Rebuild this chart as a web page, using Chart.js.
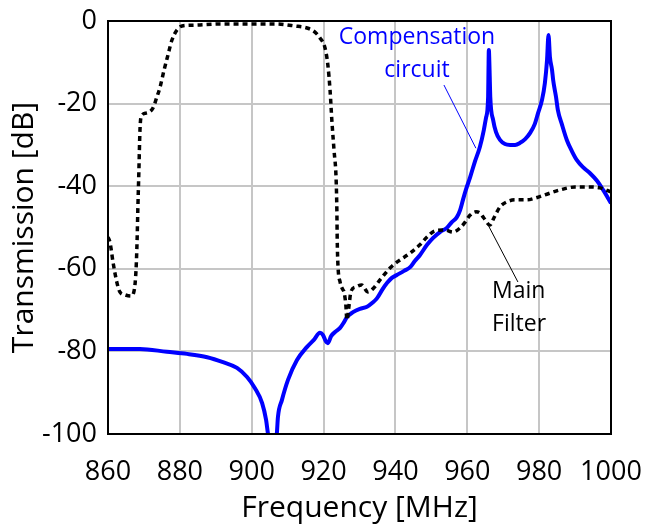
<!DOCTYPE html>
<html>
<head>
<meta charset="utf-8">
<script src="https://cdn.jsdelivr.net/npm/chart.js@4/dist/chart.umd.min.js"></script>
<style>
  html, body { margin: 0; padding: 0; background: #fff; }
  #wrap { width: 646px; height: 526px; }
</style>
</head>
<body>
<div id="wrap"><canvas id="chart"></canvas></div>
<script>
// main filter (black dotted)
var mainFreq = [860, 860.6, 861.4, 862.5, 863.3, 864.7, 866.4, 867.2, 867.8, 868.1, 868.3, 868.6, 868.9, 869.2,
  870.6, 872.5, 873.6, 874.5, 875.6, 876.7, 877.8, 879.2, 880.6, 884.2, 891.2, 899.5, 906.5, 912.0, 915.4,
  917.6, 919.0, 920.4, 921.2, 921.8, 922.3, 922.9, 923.5, 923.7, 923.8, 924.0, 924.6, 925.4, 925.7, 926.2,
  926.5, 927.1, 927.6, 929.0, 930.6, 932.3, 934.0, 935.7, 938.5, 940.4, 944.1, 946.8, 948.8, 951.0, 953.8,
  956.0, 958.0, 959.4, 960.8, 962.4, 963.5, 964.6, 966.3, 967.4, 969.1, 971.0, 973.3, 976.6, 978.8, 981.6,
  985.8, 990.0, 994.1, 996.9, 1000];
var mainDb = [-52.3, -53.8, -58.4, -63.4, -65.6, -66.3, -66.6, -65.6, -60.3, -53.0, -45.8, -36.1, -26.4, -23.2,
  -22.3, -21.1, -18.4, -16.0, -11.9, -8.2, -4.6, -2.2, -1.2, -1.0, -0.7, -0.7, -0.7, -1.2, -1.7,
  -2.7, -4.1, -6.5, -10.7, -16.7, -24.0, -31.2, -38.5, -45.8, -53.0, -59.1, -63.2, -65.1, -65.6, -68.8,
  -72.4, -68.8, -65.6, -64.4, -63.9, -65.6, -64.6, -62.7, -59.8, -58.4, -56.2, -54.2, -52.3, -50.8, -50.6,
  -51.1, -50.1, -48.7, -47.0, -46.2, -46.5, -47.7, -49.4, -47.7, -45.0, -43.8, -43.3, -43.3, -42.9, -42.1,
  -40.9, -40.2, -40.2, -40.4, -41.4];

// compensation circuit (blue)
var compFreq = [860, 868.9, 876.4, 882.0, 887.6, 892.0, 895.9, 898.7, 900.9, 902.9, 904.0, 904.5, 905.1, 905.9,
  906.5, 907.0, 907.3, 908.4, 910.1, 912.6, 915.4, 917.3, 919.0, 919.8, 920.6, 921.2, 922.1, 923.2, 924.6,
  925.7, 926.5, 928.2, 930.1, 932.1, 933.5, 934.9, 936.3, 937.7, 939.0, 940.4, 942.4, 944.1, 945.4, 946.8,
  948.8, 950.5, 952.4, 954.3, 955.7, 957.1, 958.0, 958.8, 959.6, 960.8, 962.1, 963.5, 964.6, 965.2, 965.8,
  965.9, 966.0, 966.2, 966.4, 967.2, 968.0, 969.1, 970.5, 971.9, 973.3, 974.7, 976.1, 977.5, 978.8, 979.7,
  980.8, 981.6, 982.2, 982.6, 983.0, 983.6, 983.9, 984.7, 985.2, 986.4, 987.7, 989.1, 990.5, 992.2, 994.1,
  996.1, 997.8, 1000];
var compDb = [-79.4, -79.4, -80.1, -80.6, -81.4, -82.6, -84.0, -86.2, -88.9, -92.5, -96.6, -99.8, -102.7, -104,
  -102.7, -99.8, -95.9, -91.8, -86.9, -82.1, -78.9, -77.2, -75.5, -76.0, -77.5, -78.0, -76.3, -75.3, -74.3,
  -72.9, -71.7, -70.5, -69.7, -69.2, -68.3, -67.1, -65.1, -63.4, -62.2, -61.5, -60.5, -59.6, -58.1, -56.7,
  -54.2, -52.5, -51.1, -50.1, -48.7, -47.5, -45.8, -43.3, -40.9, -37.8, -34.1, -30.5, -26.4, -23.5, -18.4,
  -11.9, -7.0, -11.9, -18.4, -24.0, -26.9, -28.8, -29.8, -30.0, -30.0, -29.5, -28.6, -27.1, -24.9, -22.3,
  -19.1, -15.0, -9.4, -3.4, -8.7, -11.9, -14.3, -18.4, -21.5, -25.2, -28.8, -31.5, -33.7, -35.4, -36.8,
  -38.7, -40.9, -44.1];

var xTicks = [860, 880, 900, 920, 940, 960, 980, 1000];
var yTicks = [-100, -80, -60, -40, -20, 0];

var font = "'Open Sans', sans-serif";

function pts(xs, ys) {
  return xs.map(function (x, i) { return { x: x, y: ys[i] }; });
}

// labels with leader lines, placed in data units
var notes = [
  { lines: ["Compensation", "circuit"], at: [946.0, -4.1], gap: 7.8, color: "#0000ff", align: 'center',
    from: [953.5, -15.5], to: [962.4, -30.8] },
  { lines: ["Main", "Filter"], at: [966.9, -65.6], gap: 7.8, color: "#000000", align: 'left',
    from: [965.8, -49.4], to: [974.1, -63.2] }
];

var annotate = {
  id: 'annotate',
  afterDatasetsDraw: function (chart) {
    var ctx = chart.ctx, xs = chart.scales.x, ys = chart.scales.y, a = chart.chartArea;
    ctx.save();
    notes.forEach(function (n) {
      ctx.strokeStyle = n.color;
      ctx.lineWidth = 1;
      ctx.beginPath();
      ctx.moveTo(xs.getPixelForValue(n.from[0]), ys.getPixelForValue(n.from[1]));
      ctx.lineTo(xs.getPixelForValue(n.to[0]), ys.getPixelForValue(n.to[1]));
      ctx.stroke();
      ctx.fillStyle = n.color;
      ctx.font = "23px " + font;
      ctx.textAlign = n.align;
      ctx.textBaseline = 'middle';
      n.lines.forEach(function (t, i) {
        ctx.fillText(t, xs.getPixelForValue(n.at[0]), ys.getPixelForValue(n.at[1] - i * n.gap));
      });
    });
    // plot frame
    ctx.strokeStyle = '#000';
    ctx.lineWidth = 2;
    ctx.strokeRect(a.left, a.top, a.right - a.left, a.bottom - a.top);
    ctx.restore();
  }
};

new Chart(document.getElementById("chart"), {
  type: 'line',
  data: {
    datasets: [{
      label: 'Main Filter',
      data: pts(mainFreq, mainDb),
      borderColor: '#000',
      borderWidth: 3.5,
      borderDash: [5, 4],
      pointRadius: 0,
      cubicInterpolationMode: 'monotone',
      fill: false
    }, {
      label: 'Compensation circuit',
      data: pts(compFreq, compDb),
      borderColor: '#0000ff',
      borderWidth: 4,
      pointRadius: 0,
      cubicInterpolationMode: 'monotone',
      fill: false
    }]
  },
  options: {
    responsive: true,
    maintainAspectRatio: false,
    animation: false,
    layout: { padding: { left: 0, top: 21, right: 35, bottom: 0 } },
    plugins: {
      legend: { display: false },
      tooltip: { enabled: false }
    },
    scales: {
      x: {
        type: 'linear',
        min: 860, max: 1000,
        afterBuildTicks: function (s) { s.ticks = xTicks.map(function (v) { return { value: v }; }); },
        afterFit: function (s) { s.height = 92; s.paddingLeft = 0; s.paddingRight = 0; },
        grid: { color: '#c6c6c6', lineWidth: 2, drawTicks: false },
        border: { display: false },
        ticks: { color: '#000', padding: 22, maxRotation: 0, font: { family: font, size: 27 },
          callback: function (v) { return String(v); } },
        title: { display: true, text: 'Frequency [MHz]', color: '#000',
          padding: { top: 0, bottom: 0 }, font: { family: font, size: 30 } }
      },
      y: {
        min: -100, max: 0,
        afterBuildTicks: function (s) { s.ticks = yTicks.map(function (v) { return { value: v }; }); },
        afterFit: function (s) { s.width = 108; s.paddingTop = 0; s.paddingBottom = 0; },
        grid: { color: '#c6c6c6', lineWidth: 2, drawTicks: false },
        border: { display: false },
        ticks: { color: '#000', padding: 11, font: { family: font, size: 27 },
          callback: function (v) { return String(v); } },
        title: { display: true, text: 'Transmission [dB]', color: '#000',
          padding: { top: 6, bottom: 0 }, font: { family: font, size: 30 } }
      }
    }
  },
  plugins: [annotate]
});
</script>
</body>
</html>
